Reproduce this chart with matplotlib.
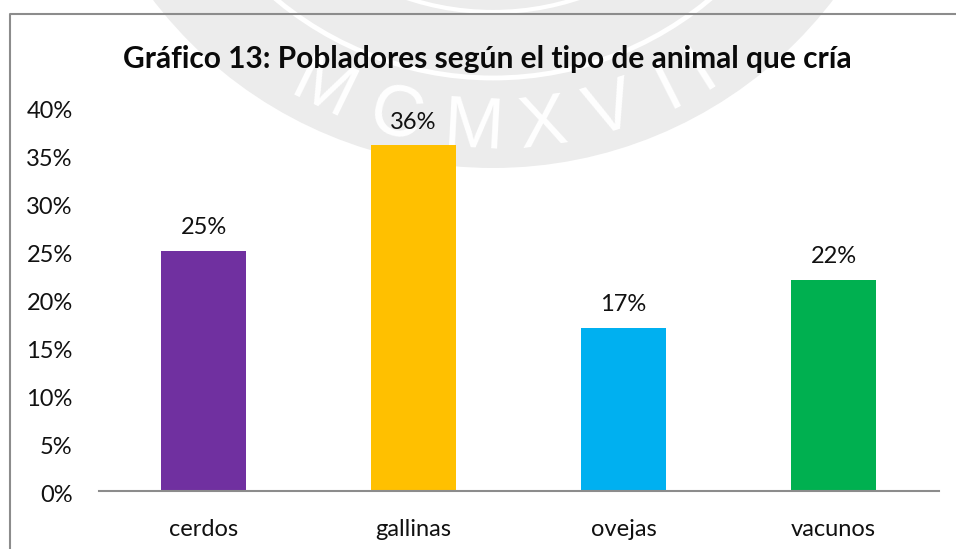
import numpy as np
import matplotlib
matplotlib.use("Agg")
import matplotlib.pyplot as plt
from matplotlib.patches import Circle
from matplotlib.ticker import FuncFormatter
from matplotlib.transforms import ScaledTranslation

categories = ["cerdos", "gallinas", "ovejas", "vacunos"]
values = [25, 36, 17, 22]
colors = ["#7030A0", "#FFC000", "#00B0F0", "#00B050"]
yticks = [0, 5, 10, 15, 20, 25, 30, 35, 40]
title = "Gráfico 13: Pobladores según el tipo de animal que cría"
seal_letters = ["M", "C", "M", "X", "V", "I", "I"]
seal_angles = [-26, -14.5, -3, 7.4, 17.6, 26.8, 32.4]

W, H = 956, 549
plt.rcParams['font.family'] = ['Lato', 'Liberation Sans', 'DejaVu Sans']
fig = plt.figure(figsize=(W/100, H/100), dpi=100, facecolor="white")

# faint seal watermark behind the chart, in pixel coordinates
bg = fig.add_axes([0, 0, 1, 1], zorder=0)
bg.set_xlim(0, W)
bg.set_ylim(H, 0)
bg.axis("off")
cx, cy = 493, -260
bg.add_patch(Circle((cx, cy), 428, fc="#ececec", ec="none"))
bg.add_patch(Circle((cx, cy), 338, fc="none", ec="white", lw=3.5))
bg.add_patch(Circle((cx, cy), 272, fc="none", ec="white", lw=3))
for ch, a in zip(seal_letters, seal_angles):
    r = np.radians(a)
    bg.text(cx + 390*np.sin(r), cy + 390*np.cos(r), ch, rotation=a,
            rotation_mode="anchor", ha="center", va="center", fontsize=52,
            color="white", family="Liberation Sans")

x0, x1 = 98.5, 938.5
ytop, ybot = 107, 491
ax = fig.add_axes([x0/W, 1-ybot/H, (x1-x0)/W, (ybot-ytop)/H], zorder=1)
ax.patch.set_alpha(0)
ax.bar(range(4), values, width=0.405, color=colors)
ax.set_xlim(-0.5, 3.5)
ax.set_ylim(0, 40)
ax.set_yticks(yticks)
ax.yaxis.set_major_formatter(FuncFormatter(lambda v, p: f"{int(v)}%"))
ax.set_xticks(range(4), categories)
ax.tick_params(axis="both", length=0, labelsize=17, colors="#111111")
ax.tick_params(axis="x", pad=20)
ax.tick_params(axis="y", pad=18.5)
shift = ScaledTranslation(0, -1.5/72, fig.dpi_scale_trans)
for lab in ax.get_yticklabels():
    lab.set_transform(lab.get_transform() + shift)
for s in ["top", "right", "left"]:
    ax.spines[s].set_visible(False)
ax.spines["bottom"].set_color("#8c8c8c")
ax.spines["bottom"].set_linewidth(1.5)
for i, v in enumerate(values):
    ax.annotate(f"{v}%", (i, v), xytext=(0, 12), textcoords="offset points",
                ha="center", va="baseline", fontsize=17, color="#111111")
fig.text(487.5/W, 1-59/H, title, ha="center", va="center", fontsize=21.5,
         fontweight="bold", color="#0a0a0a", zorder=3)
# chart frame: left and top sides are the ones visible in the crop
fig.add_artist(plt.Line2D([9.5/W, 9.5/W, 1], [0, 1-14/H, 1-14/H],
                          color="#8c8c8c", lw=1.5, transform=fig.transFigure))
fig.savefig("out.png", dpi=100)
